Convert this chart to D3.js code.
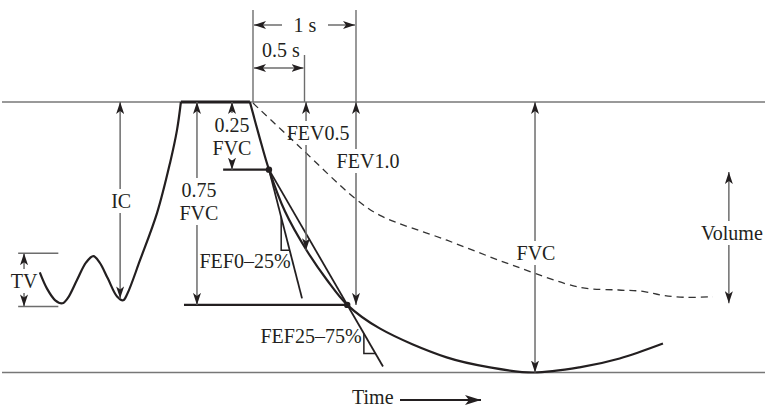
<!DOCTYPE html>
<html>
<head>
<meta charset="utf-8">
<script src="https://cdn.jsdelivr.net/npm/d3@7"></script>
<style>
  body { margin: 0; background: #fff; }
  text { font-family: "Liberation Serif", "DejaVu Serif", serif; font-size: 20px; fill: #231f20; }
</style>
</head>
<body>
<div id="chart"></div>
<script>
// time in seconds (0 = start of forced expiration), volume as fraction of FVC below full inspiration
var tidal = [[-2.07,0.63],[-2.00,0.69],[-1.92,0.733],[-1.85,0.744],[-1.80,0.726],[-1.71,0.659],
  [-1.62,0.593],[-1.55,0.57],[-1.49,0.593],[-1.41,0.652],[-1.32,0.719],[-1.26,0.733],
  [-1.22,0.709],[-1.097,0.585],[-0.932,0.411],[-0.806,0.226],[-0.738,0.104],[-0.70,0]];
var plateau = [[-0.70,0],[-0.03,0]];
var expiration = [[-0.03,0],[0.06,0.126],[0.155,0.25],[0.31,0.404],[0.52,0.548],[0.72,0.659],
  [0.915,0.75],[1.23,0.837],[1.88,0.944],[2.30,0.981],[2.72,1.0],[3.17,0.981],[3.56,0.948],[3.98,0.893]];
var poorEffort = [[0,0.004],[0.456,0.167],[0.99,0.356],[1.233,0.419],[1.883,0.511],[2.524,0.604],
  [3.175,0.685],[3.55,0.695],[3.786,0.70],[3.98,0.715],[4.2,0.722],[4.466,0.72]];
var points = [[0.155,0.25],[0.915,0.75]];
var fef025 = [[0.155,0.25],[0.476,0.726]];
var fef2575 = [[0.155,0.25],[1.262,0.978]];
var fef025Tri = [0.426,0.548];
var fef2575Tri = [0.856,0.93];
var level25 = [[-0.29,0.25],[0.155,0.25]];
var level75 = [[-0.67,0.75],[0.915,0.75]];
var tvLevels = [0.559,0.756];
var tvTick = [-2.28,-1.89];

var arrowNames = ["IC","0.75|FVC","0.25|FVC","FEV0.5","FEV1.0","FVC","Volume","TV"];
var arrowT  = [-1.29,-0.544,-0.204,0.515,1.0,2.738,4.62,-2.223];
var arrowV0 = [0,0,0,0,0,0,0.259,0.559];
var arrowV1 = [0.726,0.75,0.25,0.548,0.75,1,0.744,0.756];

var timeMarks = [0,0.5,1];

// layout (pixels)
var width = 765, height = 407;
var labelDx = [1,2,0,12,12,1,3,0];
var labelY  = [208,197,132,140,168,260,240,288];

var svg = d3.select("#chart").append("svg")
  .attr("width", width)
  .attr("height", height);

var x = d3.scaleLinear().domain([0,1]).range([253,356]);
var y = d3.scaleLinear().domain([0,1]).range([102,372.5]);

var ink = "#231f20", gray = "#6d6d6d";

var defs = svg.append("defs");
defs.append("marker")
  .attr("id","ah")
  .attr("viewBox","0 0 12 8")
  .attr("refX",12).attr("refY",4)
  .attr("markerWidth",12).attr("markerHeight",8)
  .attr("markerUnits","userSpaceOnUse")
  .attr("orient","auto-start-reverse")
  .append("path").attr("d","M0,0 L12,4 L0,8 L3,4 Z").attr("fill",ink);
defs.append("marker")
  .attr("id","ahBig")
  .attr("viewBox","0 0 16 10")
  .attr("refX",16).attr("refY",5)
  .attr("markerWidth",16).attr("markerHeight",10)
  .attr("markerUnits","userSpaceOnUse")
  .attr("orient","auto")
  .append("path").attr("d","M0,0 L16,5 L0,10 L4,5 Z").attr("fill",ink);

// frame lines
[0,1].forEach(function(v) {
  svg.append("line")
    .attr("x1",2).attr("x2",width)
    .attr("y1",y(v)).attr("y2",y(v))
    .attr("stroke","#777").attr("stroke-width",1.6);
});

var line = d3.line()
  .x(function(d) { return x(d[0]); })
  .y(function(d) { return y(d[1]); })
  .curve(d3.curveCatmullRom.alpha(0.5));
var straight = d3.line()
  .x(function(d) { return x(d[0]); })
  .y(function(d) { return y(d[1]); });

// tidal breathing + inspiration
svg.append("path").datum(tidal).attr("d",line)
  .attr("fill","none").attr("stroke",ink).attr("stroke-width",2.2);
svg.append("path").datum(plateau).attr("d",straight)
  .attr("fill","none").attr("stroke",ink).attr("stroke-width",2.8);
// forced expiration
svg.append("path").datum(expiration).attr("d",line)
  .attr("fill","none").attr("stroke",ink).attr("stroke-width",2.2);
// poor effort (dashed)
svg.append("path").datum(poorEffort).attr("d",line)
  .attr("fill","none").attr("stroke","#333").attr("stroke-width",1.3)
  .attr("stroke-dasharray","7,5");

// 25% and 75% levels
[level25, level75].forEach(function(l) {
  svg.append("path").datum(l).attr("d",straight)
    .attr("stroke",ink).attr("stroke-width",2.4);
});

// slope lines with triangles
function slopeTri(seg, tri) {
  svg.append("path").datum(seg).attr("d",straight)
    .attr("stroke",ink).attr("stroke-width",1.8);
  var t = d3.scaleLinear().domain([seg[0][1],seg[1][1]]).range([seg[0][0],seg[1][0]]);
  svg.append("path")
    .datum([[t(tri[0]),tri[0]],[t(tri[0]),tri[1]],[t(tri[1]),tri[1]]])
    .attr("d",straight)
    .attr("fill","none").attr("stroke",ink).attr("stroke-width",1.5);
}
slopeTri(fef025, fef025Tri);
slopeTri(fef2575, fef2575Tri);

svg.selectAll("circle.pt")
  .data(points)
  .enter()
  .append("circle")
    .attr("class","pt")
    .attr("cx", function(d) { return x(d[0]); })
    .attr("cy", function(d) { return y(d[1]); })
    .attr("r",3.2)
    .attr("fill",ink);

// TV ticks
tvLevels.forEach(function(v) {
  svg.append("line")
    .attr("x1",x(tvTick[0])).attr("x2",x(tvTick[1]))
    .attr("y1",y(v)).attr("y2",y(v))
    .attr("stroke",gray).attr("stroke-width",1.5);
});

// vertical labelled arrows
arrowNames.forEach(function(name, i) {
  var ax = x(arrowT[i]);
  var g = svg.append("g");
  name.split("|").forEach(function(s, k) {
    g.append("text")
      .attr("x", ax + labelDx[i])
      .attr("y", labelY[i] + k*23)
      .attr("text-anchor","middle")
      .text(s);
  });
  var bb = g.node().getBBox();
  var top = y(arrowV0[i]), bot = y(arrowV1[i]);
  svg.append("line")
    .attr("x1",ax).attr("x2",ax)
    .attr("y1",bb.y - 1).attr("y2",top)
    .attr("stroke",gray).attr("stroke-width",1.5)
    .attr("marker-end","url(#ah)");
  svg.append("line")
    .attr("x1",ax).attr("x2",ax)
    .attr("y1",bb.y + bb.height + 1).attr("y2",bot)
    .attr("stroke",gray).attr("stroke-width",1.5)
    .attr("marker-end","url(#ah)");
});

// time extension lines
var tickTop = [10,55,10];
timeMarks.forEach(function(t, i) {
  svg.append("line")
    .attr("x1",x(t)).attr("x2",x(t))
    .attr("y1",tickTop[i]).attr("y2",y(0))
    .attr("stroke",gray).attr("stroke-width",1.4);
});

// 1 s dimension
svg.append("text").attr("x",(x(0)+x(1))/2 + 0.5).attr("y",32)
  .attr("text-anchor","middle").text("1 s");
svg.append("line").attr("x1",282).attr("x2",x(0)+1).attr("y1",25).attr("y2",25)
  .attr("stroke",gray).attr("stroke-width",1.5).attr("marker-end","url(#ah)");
svg.append("line").attr("x1",328).attr("x2",x(1)-1).attr("y1",25).attr("y2",25)
  .attr("stroke",gray).attr("stroke-width",1.5).attr("marker-end","url(#ah)");

// 0.5 s dimension
svg.append("text").attr("x",281).attr("y",57)
  .attr("text-anchor","middle").text("0.5 s");
svg.append("line").attr("x1",x(0)+1).attr("x2",x(0.5)-1).attr("y1",68).attr("y2",68)
  .attr("stroke",gray).attr("stroke-width",1.5)
  .attr("marker-start","url(#ah)").attr("marker-end","url(#ah)");

// FEF labels
svg.append("text").attr("x",245).attr("y",268).attr("text-anchor","middle").text("FEF0\u201325%");
svg.append("text").attr("x",311).attr("y",343).attr("text-anchor","middle").text("FEF25\u201375%");

// Time axis label
svg.append("text").attr("x",352).attr("y",404).text("Time");
svg.append("line").attr("x1",400).attr("x2",481).attr("y1",400).attr("y2",400)
  .attr("stroke",ink).attr("stroke-width",1.8).attr("marker-end","url(#ahBig)");
</script>
</body>
</html>
